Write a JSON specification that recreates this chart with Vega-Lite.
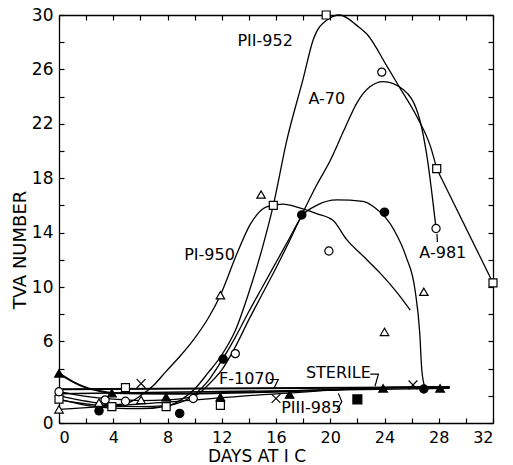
{
  "$schema": "https://vega.github.io/schema/vega-lite/v6.json",
  "width": 434,
  "height": 408,
  "autosize": {"type": "none"},
  "padding": {"left": 59, "top": 15, "right": 20, "bottom": 42},
  "background": "white",
  "config": {
    "view": {"stroke": null},
    "axis": {"grid": false, "domainColor": "black", "domainWidth": 1.3, "tickColor": "black", "tickWidth": 1.2, "labelFont": "DejaVu Sans", "labelColor": "black", "titleFont": "DejaVu Sans", "titleColor": "black", "titleFontWeight": "normal"}
  },
  "datasets": {
    "curves": [
      {"s": "PII-952", "d": 0, "v": 1.75}, {"s": "PII-952", "d": 2, "v": 1.3}, {"s": "PII-952", "d": 4, "v": 1.1}, {"s": "PII-952", "d": 6, "v": 1.05}, {"s": "PII-952", "d": 8, "v": 1.25}, {"s": "PII-952", "d": 9, "v": 1.7}, {"s": "PII-952", "d": 10, "v": 2.5}, {"s": "PII-952", "d": 11, "v": 3.7}, {"s": "PII-952", "d": 12, "v": 5.0}, {"s": "PII-952", "d": 13, "v": 6.8}, {"s": "PII-952", "d": 14, "v": 9.6}, {"s": "PII-952", "d": 15, "v": 12.9}, {"s": "PII-952", "d": 15.8, "v": 16.0}, {"s": "PII-952", "d": 16.8, "v": 20.8}, {"s": "PII-952", "d": 18, "v": 25.3}, {"s": "PII-952", "d": 18.75, "v": 28.2}, {"s": "PII-952", "d": 19.7, "v": 29.6}, {"s": "PII-952", "d": 20.7, "v": 30}, {"s": "PII-952", "d": 22, "v": 29.2}, {"s": "PII-952", "d": 22.7, "v": 28.6}, {"s": "PII-952", "d": 24.2, "v": 26.2}, {"s": "PII-952", "d": 25.1, "v": 24.7}, {"s": "PII-952", "d": 26.4, "v": 22.5}, {"s": "PII-952", "d": 27.4, "v": 20.3}, {"s": "PII-952", "d": 27.85, "v": 18.7},
      {"s": "PII-952b", "d": 27.85, "v": 18.7}, {"s": "PII-952b", "d": 32, "v": 10.3},
      {"s": "A-70", "d": 0, "v": 2.3}, {"s": "A-70", "d": 2, "v": 1.95}, {"s": "A-70", "d": 4, "v": 1.75}, {"s": "A-70", "d": 6, "v": 1.65}, {"s": "A-70", "d": 8, "v": 1.7}, {"s": "A-70", "d": 10, "v": 2.0}, {"s": "A-70", "d": 11, "v": 2.8}, {"s": "A-70", "d": 12, "v": 3.9}, {"s": "A-70", "d": 13, "v": 5.6}, {"s": "A-70", "d": 14, "v": 7.6}, {"s": "A-70", "d": 15, "v": 9.5}, {"s": "A-70", "d": 16, "v": 11.4}, {"s": "A-70", "d": 17, "v": 13.4}, {"s": "A-70", "d": 17.9, "v": 15.3}, {"s": "A-70", "d": 19, "v": 17.5}, {"s": "A-70", "d": 20, "v": 19.3}, {"s": "A-70", "d": 21, "v": 21.5}, {"s": "A-70", "d": 22, "v": 23.6}, {"s": "A-70", "d": 22.9, "v": 24.7}, {"s": "A-70", "d": 23.9, "v": 25.1}, {"s": "A-70", "d": 25.4, "v": 24.5}, {"s": "A-70", "d": 26.6, "v": 22.3}, {"s": "A-70", "d": 27.1, "v": 19.8}, {"s": "A-70", "d": 27.8, "v": 14.3},
      {"s": "FC", "d": 0, "v": 1.7}, {"s": "FC", "d": 3, "v": 1.3}, {"s": "FC", "d": 6, "v": 1.2}, {"s": "FC", "d": 8, "v": 1.3}, {"s": "FC", "d": 10, "v": 2.1}, {"s": "FC", "d": 11, "v": 3.1}, {"s": "FC", "d": 12, "v": 4.6}, {"s": "FC", "d": 13, "v": 6.3}, {"s": "FC", "d": 14, "v": 8.2}, {"s": "FC", "d": 15, "v": 10.0}, {"s": "FC", "d": 16, "v": 11.8}, {"s": "FC", "d": 17, "v": 13.6}, {"s": "FC", "d": 17.9, "v": 15.2}, {"s": "FC", "d": 19, "v": 16.0}, {"s": "FC", "d": 20.5, "v": 16.4}, {"s": "FC", "d": 22.4, "v": 16.3}, {"s": "FC", "d": 23.2, "v": 15.9}, {"s": "FC", "d": 24.7, "v": 14.2}, {"s": "FC", "d": 25.6, "v": 12.2}, {"s": "FC", "d": 26.25, "v": 9.8}, {"s": "FC", "d": 26.6, "v": 6.6}, {"s": "FC", "d": 26.75, "v": 3.9}, {"s": "FC", "d": 27, "v": 2.55},
      {"s": "PI-950", "d": 0, "v": 2.0}, {"s": "PI-950", "d": 2, "v": 1.6}, {"s": "PI-950", "d": 4, "v": 1.35}, {"s": "PI-950", "d": 5, "v": 1.45}, {"s": "PI-950", "d": 6, "v": 2.0}, {"s": "PI-950", "d": 7, "v": 2.8}, {"s": "PI-950", "d": 7.9, "v": 3.8}, {"s": "PI-950", "d": 9, "v": 5.0}, {"s": "PI-950", "d": 9.9, "v": 6.1}, {"s": "PI-950", "d": 11, "v": 7.7}, {"s": "PI-950", "d": 11.9, "v": 9.4}, {"s": "PI-950", "d": 13.1, "v": 12.4}, {"s": "PI-950", "d": 14.1, "v": 14.6}, {"s": "PI-950", "d": 15.3, "v": 15.9}, {"s": "PI-950", "d": 16.5, "v": 16.1}, {"s": "PI-950", "d": 17.8, "v": 15.8}, {"s": "PI-950", "d": 19, "v": 15.4}, {"s": "PI-950", "d": 20.2, "v": 14.9}, {"s": "PI-950", "d": 21.2, "v": 13.5}, {"s": "PI-950", "d": 22.5, "v": 12.2}, {"s": "PI-950", "d": 23.7, "v": 11.0}, {"s": "PI-950", "d": 25, "v": 9.5}, {"s": "PI-950", "d": 25.9, "v": 8.3},
      {"s": "PIII-985", "d": 0, "v": 1.0}, {"s": "PIII-985", "d": 6.7, "v": 1.45}, {"s": "PIII-985", "d": 16.8, "v": 2.2}, {"s": "PIII-985", "d": 24, "v": 2.6}, {"s": "PIII-985", "d": 28.8, "v": 2.65},
      {"s": "XL", "d": 0, "v": 2.15}, {"s": "XL", "d": 28.8, "v": 2.55}
    ],
    "heavy": [
      {"s": "STERILE", "d": 0, "v": 3.65}, {"s": "STERILE", "d": 1, "v": 3.05}, {"s": "STERILE", "d": 2, "v": 2.6}, {"s": "STERILE", "d": 3, "v": 2.35}, {"s": "STERILE", "d": 3.9, "v": 2.2}, {"s": "STERILE", "d": 8, "v": 2.15}, {"s": "STERILE", "d": 12, "v": 2.2}, {"s": "STERILE", "d": 16, "v": 2.3}, {"s": "STERILE", "d": 20, "v": 2.45}, {"s": "STERILE", "d": 24, "v": 2.6}, {"s": "STERILE", "d": 28.8, "v": 2.65},
      {"s": "F-1070", "d": 0, "v": 2.48}, {"s": "F-1070", "d": 28.8, "v": 2.62}
    ],
    "pts": [
      {"m": "sq", "d": 0, "v": 1.75}, {"m": "sq", "d": 3.9, "v": 1.2}, {"m": "sq", "d": 4.9, "v": 2.6}, {"m": "sq", "d": 7.9, "v": 1.2}, {"m": "sq", "d": 11.9, "v": 1.3}, {"m": "sq", "d": 15.8, "v": 16.0}, {"m": "sq", "d": 19.7, "v": 30}, {"m": "sq", "d": 27.85, "v": 18.7}, {"m": "sq", "d": 32, "v": 10.3},
      {"m": "oc", "d": 0, "v": 2.3}, {"m": "oc", "d": 3.4, "v": 1.7}, {"m": "oc", "d": 4.9, "v": 1.6}, {"m": "oc", "d": 9.9, "v": 1.8}, {"m": "oc", "d": 13, "v": 5.1}, {"m": "oc", "d": 19.9, "v": 12.65}, {"m": "oc", "d": 23.8, "v": 25.8}, {"m": "oc", "d": 27.8, "v": 14.3},
      {"m": "fc", "d": 2.95, "v": 0.9}, {"m": "fc", "d": 8.9, "v": 0.7}, {"m": "fc", "d": 12.1, "v": 4.7}, {"m": "fc", "d": 17.9, "v": 15.3}, {"m": "fc", "d": 24, "v": 15.5}, {"m": "fc", "d": 26.9, "v": 2.5},
      {"m": "ot", "d": 0, "v": 1.0}, {"m": "ot", "d": 2.95, "v": 1.5}, {"m": "ot", "d": 6.05, "v": 1.7}, {"m": "ot", "d": 11.9, "v": 9.4}, {"m": "ot", "d": 14.9, "v": 16.8}, {"m": "ot", "d": 24, "v": 6.7}, {"m": "ot", "d": 26.9, "v": 9.65},
      {"m": "ft", "d": 0, "v": 3.65}, {"m": "ft", "d": 3.9, "v": 2.2}, {"m": "ft", "d": 7.9, "v": 1.9}, {"m": "ft", "d": 11.9, "v": 1.9}, {"m": "ft", "d": 17.0, "v": 2.1}, {"m": "ft", "d": 23.9, "v": 2.55}, {"m": "ft", "d": 28.1, "v": 2.55},
      {"m": "x", "d": 6.05, "v": 2.9}, {"m": "x", "d": 16, "v": 1.8}, {"m": "x", "d": 26.1, "v": 2.8},
      {"m": "fs", "d": 22, "v": 1.74}
    ],
    "labels": [
      {"t": "PII-952", "d": 15.2, "v": 28.1}, {"t": "A-70", "d": 19.75, "v": 23.8}, {"t": "PI-950", "d": 11.1, "v": 12.35}, {"t": "A-981", "d": 28.3, "v": 12.5}, {"t": "F-1070", "d": 13.85, "v": 3.2}, {"t": "STERILE", "d": 20.6, "v": 3.7}, {"t": "PIII-985", "d": 18.6, "v": 1.08}
    ],
    "hooks": [
      {"h": "f", "k": 1, "d": 15.56, "v": 3.2}, {"h": "f", "k": 2, "d": 16.17, "v": 3.2}, {"h": "f", "k": 3, "d": 15.85, "v": 2.55},
      {"h": "s", "k": 1, "d": 22.95, "v": 3.6}, {"h": "s", "k": 2, "d": 23.55, "v": 3.6}, {"h": "s", "k": 3, "d": 23.3, "v": 2.7},
      {"h": "p", "k": 1, "d": 20.6, "v": 2.18}, {"h": "p", "k": 2, "d": 20.85, "v": 1.57}, {"h": "p", "k": 3, "d": 20.5, "v": 0.96},
      {"h": "a", "k": 1, "d": 27.87, "v": 13.9}, {"h": "a", "k": 2, "d": 27.9, "v": 13.3}
    ]
  },
  "resolve": {"axis": {"x": "independent", "y": "independent"}},
  "layer": [
    {
      "data": {"name": "curves"},
      "mark": {"type": "line", "interpolate": "monotone", "color": "black", "strokeWidth": 1.3},
      "encoding": {
        "x": {"field": "d", "type": "quantitative", "scale": {"domain": [0, 32], "nice": false, "zero": false},
          "axis": {"orient": "bottom", "values": [0,2,4,6,8,10,12,14,16,18,20,22,24,26,28,30,32], "labelExpr": "datum.value % 4 === 0 ? datum.label : ''", "tickSize": -5, "labelPadding": 11, "labelFontSize": 16, "title": "DAYS AT I C", "titleFontSize": 17, "titleX": 197.5, "titleY": 38, "titleAlign": "center", "titleBaseline": "alphabetic"}},
        "y": {"field": "v", "type": "quantitative", "scale": {"domain": [0, 30], "nice": false, "zero": false},
          "axis": {"orient": "left", "values": [0,2,4,6,8,10,12,14,16,18,20,22,24,26,28,30], "labelExpr": "datum.value === 0 || (datum.value >= 6 && datum.value % 4 === 2) ? datum.label : ''", "tickSize": -5, "labelPadding": 11, "labelFontSize": 17, "title": "TVA NUMBER", "titleFontSize": 18, "titleX": -34, "titleY": 234.5, "titleAlign": "center", "titleBaseline": "alphabetic", "titleAngle": -90}},
        "detail": {"field": "s"}
      }
    },
    {
      "data": {"name": "heavy"},
      "mark": {"type": "line", "interpolate": "monotone", "color": "black", "strokeWidth": 2},
      "encoding": {
        "x": {"field": "d", "type": "quantitative", "scale": {"domain": [0, 32], "nice": false, "zero": false}, "axis": null},
        "y": {"field": "v", "type": "quantitative", "scale": {"domain": [0, 30], "nice": false, "zero": false}, "axis": null},
        "detail": {"field": "s"}
      }
    },
    {
      "data": {"name": "hooks"},
      "mark": {"type": "line", "color": "black", "strokeWidth": 1.2},
      "encoding": {
        "x": {"field": "d", "type": "quantitative", "scale": {"domain": [0, 32], "nice": false, "zero": false},
          "axis": {"orient": "top", "values": [0,2,4,6,8,10,12,14,16,18,20,22,24,26,28,30,32], "labels": false, "tickSize": -5, "title": null}},
        "y": {"field": "v", "type": "quantitative", "scale": {"domain": [0, 30], "nice": false, "zero": false},
          "axis": {"orient": "right", "values": [0,2,4,6,8,10,12,14,16,18,20,22,24,26,28,30], "labels": false, "tickSize": -5, "title": null}},
        "detail": {"field": "h"},
        "order": {"field": "k"}
      }
    },
    {
      "data": {"name": "pts"},
      "mark": {"type": "point", "filled": false, "stroke": "black", "strokeWidth": 1.2, "opacity": 1},
      "encoding": {
        "x": {"field": "d", "type": "quantitative", "scale": {"domain": [0, 32], "nice": false, "zero": false}, "axis": null},
        "y": {"field": "v", "type": "quantitative", "scale": {"domain": [0, 30], "nice": false, "zero": false}, "axis": null},
        "shape": {"field": "m", "type": "nominal", "legend": null, "scale": {"domain": ["sq","oc","fc","ot","ft","x","fs"], "range": ["square","circle","circle","triangle-up","triangle-up","M-1,-1L1,1M-1,1L1,-1","square"]}},
        "fill": {"field": "m", "type": "nominal", "legend": null, "scale": {"domain": ["sq","oc","fc","ot","ft","x","fs"], "range": ["white","white","black","white","black","transparent","black"]}},
        "size": {"field": "m", "type": "nominal", "legend": null, "scale": {"domain": ["sq","oc","fc","ot","ft","x","fs"], "range": [64,80,95,75,80,55,64]}}
      }
    },
    {
      "data": {"name": "labels"},
      "mark": {"type": "text", "font": "DejaVu Sans", "fontSize": 16, "color": "black", "align": "center", "baseline": "middle"},
      "encoding": {
        "x": {"field": "d", "type": "quantitative", "scale": {"domain": [0, 32], "nice": false, "zero": false}, "axis": null},
        "y": {"field": "v", "type": "quantitative", "scale": {"domain": [0, 30], "nice": false, "zero": false}, "axis": null},
        "text": {"field": "t"}
      }
    }
  ]
}
